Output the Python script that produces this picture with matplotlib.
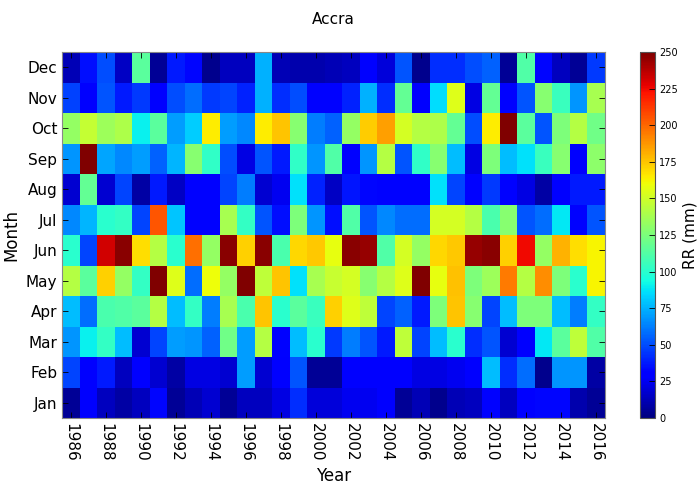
import matplotlib as mpl

mpl.use("Agg")

import matplotlib.pyplot as plt
import numpy as np

years = list(range(1986, 2017))
months = ["Jan", "Feb", "Mar", "Apr", "May", "Jun", "Jul", "Aug", "Sep", "Oct", "Nov", "Dec"]

# monthly rainfall (mm), one list per month, 1986..2016
rr_jan = [5, 30, 14, 8, 14, 33, 5, 12, 18, 5, 14, 14, 22, 42, 20, 20, 25, 25, 31, 5, 12, 3, 12, 14, 32, 14, 30, 33, 33, 10, 5]
rr_feb = [48, 28, 38, 14, 28, 18, 8, 22, 22, 18, 70, 18, 30, 52, 5, 5, 30, 30, 30, 30, 22, 22, 25, 30, 78, 42, 58, 3, 68, 68, 8]
rr_mar = [68, 90, 103, 78, 18, 48, 70, 68, 55, 122, 70, 142, 32, 78, 100, 45, 62, 52, 38, 145, 48, 78, 100, 42, 52, 18, 30, 88, 115, 145, 112]
rr_apr = [78, 58, 110, 112, 115, 142, 78, 103, 62, 138, 110, 175, 100, 115, 105, 172, 155, 145, 48, 55, 38, 125, 175, 128, 48, 78, 125, 125, 78, 62, 103]
rr_may = [142, 115, 172, 132, 103, 250, 155, 58, 160, 132, 250, 145, 175, 86, 138, 148, 152, 128, 142, 155, 250, 158, 176, 125, 135, 195, 142, 190, 125, 100, 163]
rr_jun = [100, 48, 232, 248, 168, 142, 100, 198, 132, 248, 172, 248, 110, 170, 174, 158, 248, 245, 112, 152, 132, 170, 174, 245, 248, 172, 225, 132, 180, 168, 163]
rr_jul = [65, 76, 100, 103, 48, 205, 80, 32, 32, 138, 103, 52, 35, 125, 68, 35, 112, 52, 65, 58, 58, 152, 152, 142, 110, 128, 52, 58, 88, 32, 52]
rr_aug = [18, 118, 18, 48, 8, 38, 15, 32, 32, 48, 62, 18, 25, 86, 40, 15, 37, 33, 32, 32, 32, 86, 48, 32, 45, 32, 22, 8, 30, 38, 38]
rr_sep = [68, 250, 72, 65, 70, 55, 76, 128, 102, 50, 22, 52, 38, 102, 68, 112, 32, 68, 142, 52, 102, 128, 78, 22, 125, 78, 86, 105, 128, 30, 130]
rr_oct = [132, 147, 135, 140, 90, 115, 70, 82, 165, 70, 65, 165, 175, 128, 62, 55, 132, 173, 185, 152, 142, 140, 118, 50, 165, 250, 115, 52, 125, 142, 122]
rr_nov = [47, 28, 52, 38, 45, 28, 50, 58, 45, 48, 40, 75, 42, 50, 32, 32, 40, 75, 42, 118, 30, 85, 155, 22, 118, 32, 52, 128, 105, 68, 138]
rr_dec = [12, 35, 50, 15, 115, 5, 38, 33, 3, 14, 14, 75, 12, 10, 10, 12, 14, 32, 20, 52, 3, 42, 42, 50, 55, 5, 112, 33, 14, 5, 45]

rain = np.array([rr_jan, rr_feb, rr_mar, rr_apr, rr_may, rr_jun,
                 rr_jul, rr_aug, rr_sep, rr_oct, rr_nov, rr_dec], dtype=float)

fig = plt.figure(figsize=(6.99, 4.88), dpi=100)
ax = fig.add_axes([0.0887, 0.1434, 0.7768, 0.75])
cax = fig.add_axes([0.9156, 0.1434, 0.0215, 0.75])

x_edges = np.arange(years[0], years[-1] + 2) - 0.5
y_edges = np.arange(len(months) + 1) - 0.5
mesh = ax.pcolormesh(x_edges, y_edges, rain, cmap="jet", vmin=0, vmax=250)

ax.set_xlim(x_edges[0], x_edges[-1])
ax.set_ylim(y_edges[0], y_edges[-1])
ax.set_xticks(years[::2])
ax.set_xticklabels([str(y) for y in years[::2]], rotation=-90, fontsize=11)
ax.set_yticks(range(len(months)))
ax.set_yticklabels(months, fontsize=11)
ax.tick_params(direction="in", top=True, right=True, length=4, width=0.6)
ax.set_xlabel("Year", fontsize=12)
ax.set_ylabel("Month", fontsize=12)
ax.set_title("Accra", fontsize=11, pad=20)
for sp in ax.spines.values():
    sp.set_color("#888888")

cb = fig.colorbar(mesh, cax=cax, ticks=np.arange(0, 251, 25))
cb.ax.tick_params(direction="in", length=4, width=0.6, labelsize=7, pad=3)
cb.set_label("RR (mm)", fontsize=11, labelpad=3)
cb.outline.set_edgecolor("#555555")

fig.savefig("out.png", dpi=100)
